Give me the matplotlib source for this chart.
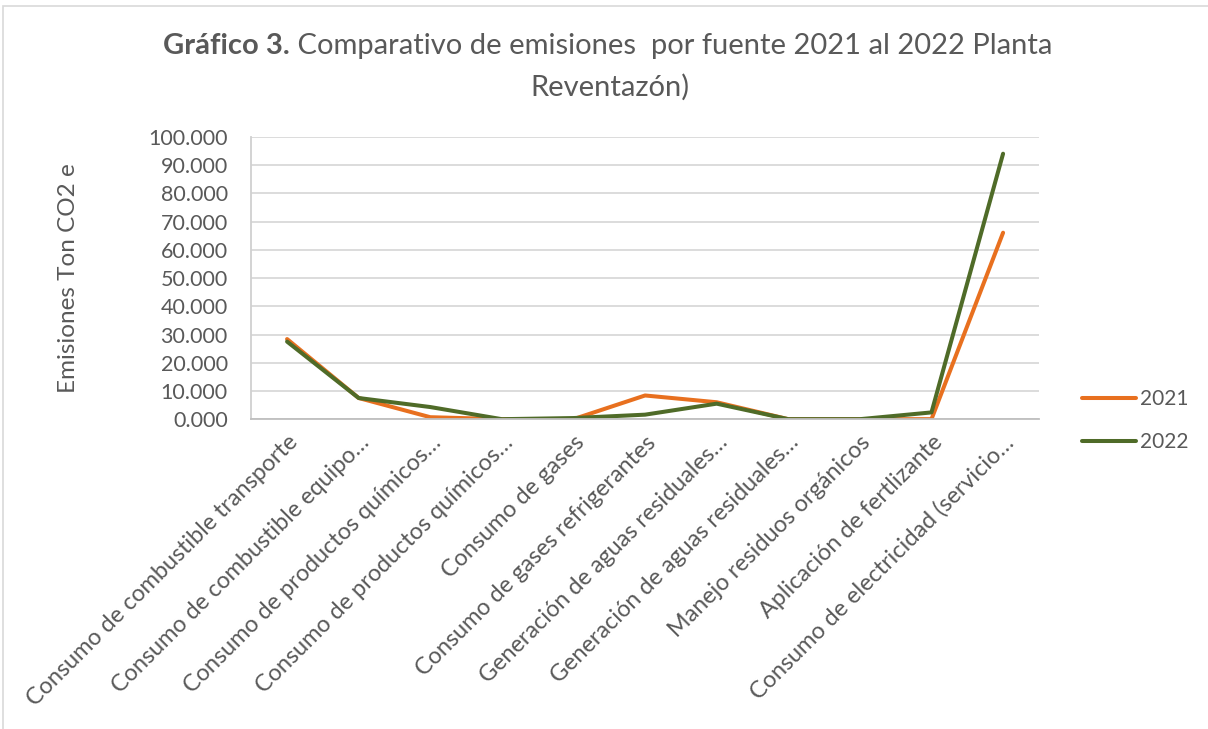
import numpy as np
import matplotlib
matplotlib.use("Agg")
import matplotlib.pyplot as plt
from matplotlib.patches import Rectangle

plt.rcParams['font.family'] = ['Lato', 'DejaVu Sans']

# Categories and series values (Ton CO2 e)
categorias = [
    "Consumo de combustible transporte",
    "Consumo de combustible equipo…",
    "Consumo de productos químicos…",
    "Consumo de productos químicos…",
    "Consumo de gases",
    "Consumo de gases refrigerantes",
    "Generación de aguas residuales…",
    "Generación de aguas residuales…",
    "Manejo residuos orgánicos",
    "Aplicación de fertlizante",
    "Consumo de electricidad (servicio…",
]
valores_2021 = [28.4, 7.5, 0.7, 0.0, 0.0, 8.4, 6.0, 0.0, 0.0, 0.0, 66.1]
valores_2022 = [27.5, 7.5, 4.3, 0.0, 0.4, 1.6, 5.5, 0.0, 0.0, 2.4, 94.1]
series = ["2021", "2022"]
yticks = np.arange(0, 101, 10)

gris = '#595959'
naranja = '#E8701F'
verde = '#4F6B28'

fig = plt.figure(figsize=(12.08, 7.29), dpi=100)
ax = fig.add_axes([0.208, 0.425, 0.652, 0.387])

x = np.arange(len(categorias))
ax.plot(x, valores_2021, color=naranja, lw=2.9, label=series[0], solid_capstyle='round')
ax.plot(x, valores_2022, color=verde, lw=2.9, label=series[1], solid_capstyle='round')

ax.set_xlim(-0.5, len(categorias) - 0.5)
ax.set_ylim(0, 100)
ax.set_yticks(yticks)
ax.set_yticklabels(["{:.3f}".format(v) for v in yticks], fontsize=15.5, color=gris)
ax.set_xticks(x)
ax.set_xticklabels(categorias, rotation=45, ha='right', rotation_mode='anchor',
                   fontsize=16.8, color=gris)
ax.tick_params(axis='y', length=0, pad=17)
ax.tick_params(axis='x', length=0, pad=9)

ax.grid(axis='y', color='#D9D9D9', lw=1.3)
ax.set_axisbelow(True)
for s in ['top', 'right']:
    ax.spines[s].set_visible(False)
ax.spines['bottom'].set_color('#BFBFBF')
ax.spines['bottom'].set_linewidth(1.3)
ax.spines['left'].set_color('#D0D0D0')
ax.spines['left'].set_linewidth(1.3)

ax.set_ylabel("Emisiones Ton CO2 e", fontsize=17.5, color=gris, labelpad=50)

leg = fig.legend(loc='center left', bbox_to_anchor=(0.88, 0.423), frameon=False,
                 fontsize=15, handlelength=2.6, labelspacing=1.1, handletextpad=0.2)
for t in leg.get_texts():
    t.set_color(gris)

# Title: bold part followed by normal part
fig.canvas.draw()
r = fig.canvas.get_renderer()
t1 = fig.text(0, 0.937, "Gráfico 3.", fontsize=21, fontweight='bold', color=gris, va='center')
t2 = fig.text(0, 0.937, " Comparativo de emisiones  por fuente 2021 al 2022 Planta",
              fontsize=21, color=gris, va='center')
w1 = t1.get_window_extent(r).width
w2 = t2.get_window_extent(r).width
x0 = (608 - (w1 + w2) / 2) / fig.bbox.width
t1.set_x(x0)
t2.set_x(x0 + w1 / fig.bbox.width)
fig.text(610 / 1208, 0.88, "Reventazón)", fontsize=21, color=gris, ha='center', va='center')

fig.patches.append(Rectangle((3 / 1208, -0.01), 1.05, 1 - 6 / 729 + 0.01,
                             transform=fig.transFigure, fill=False,
                             edgecolor='#D9D9D9', lw=1.2))

fig.savefig("out.png", dpi=100)
